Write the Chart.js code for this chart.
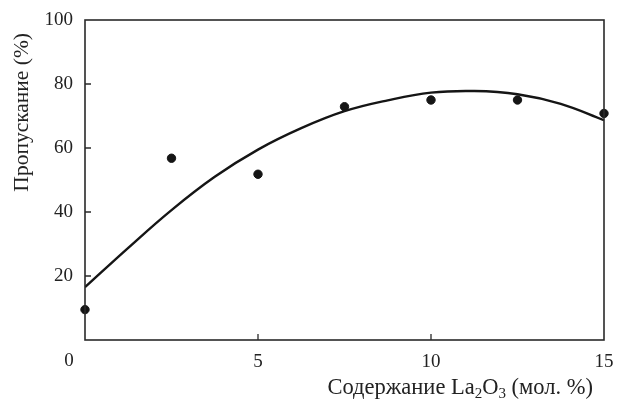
<!DOCTYPE html>
<html>
<head>
<meta charset="utf-8">
<script src="https://cdn.jsdelivr.net/npm/chart.js@4"></script>
<style>
  html, body { margin: 0; padding: 0; background: #fff; }
  #wrap { width: 617px; height: 400px; }
</style>
</head>
<body>
<div id="wrap"><canvas id="chart" width="617" height="400"></canvas></div>
<script>
// measured points
const pointX = [0, 2.5, 5, 7.5, 10, 12.5, 15];
const pointY = [9.5, 56.8, 51.8, 72.9, 75, 75, 70.8];

// fitted curve
const curveX = [0, 1.25, 2.5, 3.75, 5, 6.25, 7.5, 8.75, 10, 11.25, 12.5, 13.75, 15];
const curveY = [16.5, 28.8, 40.6, 51, 59.5, 66.2, 71.5, 74.9, 77.3, 77.8, 76.8, 73.8, 68.7];

const xTicks = [0, 5, 10, 15];
const yTicks = [0, 20, 40, 60, 80, 100];

const axisColor = '#2a2a2a';
const serif = '"Liberation Serif", "DejaVu Serif", serif';

const toXY = (xs, ys) => xs.map((x, i) => ({ x: x, y: ys[i] }));

// frame, inward ticks and the hand-placed texts
const framePlugin = {
  id: 'frame',
  afterDraw(chart) {
    const { ctx, chartArea: a, scales } = chart;
    ctx.save();
    ctx.strokeStyle = axisColor;
    ctx.lineWidth = 1.6;
    ctx.strokeRect(a.left, a.top, a.right - a.left, a.bottom - a.top);

    ctx.lineWidth = 1.3;
    ctx.beginPath();
    yTicks.forEach(v => {
      if (v === 0 || v === 100) return;
      const py = scales.y.getPixelForValue(v);
      ctx.moveTo(a.left, py);
      ctx.lineTo(a.left + 6, py);
    });
    xTicks.forEach(v => {
      if (v === 0 || v === 15) return;
      const px = scales.x.getPixelForValue(v);
      ctx.moveTo(px, a.bottom);
      ctx.lineTo(px, a.bottom - 6);
    });
    ctx.stroke();

    ctx.fillStyle = '#222';
    // origin label sits left of the corner
    ctx.font = '19px ' + serif;
    ctx.textAlign = 'center';
    ctx.textBaseline = 'middle';
    ctx.fillText('0', a.left - 16, 361);

    // y title
    ctx.save();
    ctx.translate(22, 33);
    ctx.rotate(-Math.PI / 2);
    ctx.textAlign = 'right';
    ctx.textBaseline = 'middle';
    ctx.font = '21.5px ' + serif;
    ctx.fillText('Пропускание (%)', 0, 0);
    ctx.restore();

    // x title with subscripts
    const parts = [
      ['Содержание La', false],
      ['2', true],
      ['O', false],
      ['3', true],
      [' (мол. %)', false]
    ];
    const big = '22.5px ' + serif, small = '15px ' + serif;
    let total = 0;
    parts.forEach(p => { ctx.font = p[1] ? small : big; total += ctx.measureText(p[0]).width; });
    let x = 593 - total;
    const base = 394;
    ctx.textAlign = 'left';
    ctx.textBaseline = 'alphabetic';
    parts.forEach(p => {
      ctx.font = p[1] ? small : big;
      ctx.fillText(p[0], x, p[1] ? base + 4 : base);
      x += ctx.measureText(p[0]).width;
    });
    ctx.restore();
  }
};

new Chart(document.getElementById('chart'), {
  type: 'scatter',
  data: {
    datasets: [
      {
        label: 'fit',
        type: 'line',
        data: toXY(curveX, curveY),
        borderColor: '#151515',
        borderWidth: 2.4,
        pointRadius: 0,
        tension: 0.4,
        fill: false
      },
      {
        label: 'data',
        data: toXY(pointX, pointY),
        backgroundColor: '#151515',
        borderColor: '#151515',
        pointRadius: 4.2,
        clip: false
      }
    ]
  },
  options: {
    responsive: false,
    animation: false,
    layout: { padding: { left: 0, right: 13, top: 20, bottom: 0 } },
    plugins: { legend: { display: false }, tooltip: { enabled: false } },
    scales: {
      x: {
        type: 'linear',
        min: 0,
        max: 15,
        afterBuildTicks: s => { s.ticks = xTicks.map(v => ({ value: v })); },
        afterFit: s => { s.height = 60; s.paddingLeft = 0; s.paddingRight = 0; },
        grid: { display: false, drawTicks: false },
        border: { display: false },
        ticks: {
          color: '#222',
          font: { family: serif, size: 19 },
          padding: 11,
          maxRotation: 0,
          callback: v => (v === 0 ? '' : v)
        }
      },
      y: {
        min: 0,
        max: 100,
        afterBuildTicks: s => { s.ticks = yTicks.map(v => ({ value: v })); },
        afterFit: s => { s.width = 85; s.paddingTop = 0; s.paddingBottom = 0; },
        grid: { display: false, drawTicks: false },
        border: { display: false },
        ticks: {
          color: '#222',
          font: { family: serif, size: 19 },
          padding: 12,
          callback: v => (v === 0 ? '' : v)
        }
      }
    }
  },
  plugins: [framePlugin]
});
</script>
</body>
</html>
